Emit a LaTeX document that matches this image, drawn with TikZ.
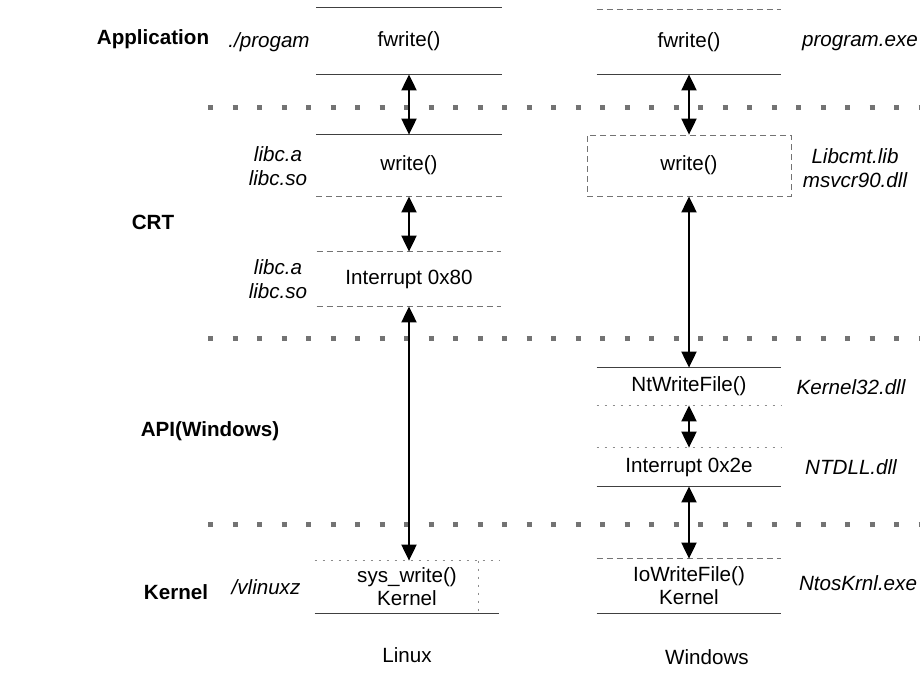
\documentclass[tikz,border=0pt]{standalone}
\usepackage{fontspec}
\setmainfont{Liberation Sans}
\usetikzlibrary{arrows.meta, positioning, calc}

\begin{document}
\begin{tikzpicture}[
    x=0.5pt, y=-0.5pt,
    layer/.style={
        rectangle,
        inner sep=0pt,
        align=center,
        minimum width=92pt,
        font=\fontsize{10.3}{11.5}\selectfont
    },
    libname/.style={
        align=center,
        font=\fontsize{10.3}{12}\selectfont\itshape
    },
    tiername/.style={
        font=\fontsize{10.3}{12}\selectfont\bfseries
    },
    osname/.style={
        font=\fontsize{10.3}{12}\selectfont
    },
    edge/.style={
        draw=black!75,
        line width=0.5pt
    },
    faint/.style={
        draw=black!55,
        line width=0.4pt,
        densely dashed
    },
    sparse/.style={
        draw=black!45,
        line width=0.4pt,
        dash pattern=on 1pt off 3pt
    },
    sepline/.style={
        draw=black!55,
        line width=2.5pt,
        dash pattern=on 2.5pt off 9.75pt
    },
    callarrow/.style={
        {Triangle[width=7.5pt, length=8pt]}-{Triangle[width=7.5pt, length=8pt]},
        line width=1pt,
        draw=black
    }
]
    \useasboundingbox (0,0) rectangle (922,682);

    % --- TIER SEPARATORS ---
    \foreach \y in {107, 338, 524} {
        \draw[sepline] (208,\y) -- (920,\y);
    }

    % --- TIER NAMES ---
    \node[tiername] (t_app) at (153, 39) {Application};
    \node[tiername] (t_crt) at (153, 222) {CRT};
    \node[tiername] (t_api) at (210, 431) {API(Windows)};
    \node[tiername] (t_krn) at (176, 592) {Kernel};

    % --- LINUX COLUMN ---
    \node[layer, minimum width=92.5pt, minimum height=33pt] (l_app) at (409, 41) {fwrite()};
    \node[layer, minimum width=92.5pt, minimum height=30.5pt] (l_write) at (409, 165.5) {write()};
    \node[layer, minimum height=27pt] (l_int) at (409, 279) {Interrupt 0x80};
    \node[layer, minimum height=26pt] (l_sys) at (407, 587) {sys\_write()\\Kernel};

    \draw[edge] (l_app.north west) -- (l_app.north east);
    \draw[edge] (l_app.south west) -- (l_app.south east);
    \draw[edge] (l_write.north west) -- (l_write.north east);
    \draw[faint] (l_write.south west) -- (l_write.south east);
    \draw[faint] (l_int.north west) -- (l_int.north east);
    \draw[faint] (l_int.south west) -- (l_int.south east);
    \draw[sparse] (l_sys.north west) -- (l_sys.north east);
    \draw[edge] (l_sys.south west) -- (l_sys.south east);
    \draw[sparse] ($(l_sys.north east)+(-21,0)$) -- ($(l_sys.south east)+(-21,0)$);

    \node[libname] (l_prog) at (269, 42) {./progam};
    \node[libname] (l_libc1) at (278, 166) {libc.a\\libc.so};
    \node[libname] (l_libc2) at (278, 279) {libc.a\\libc.so};
    \node[libname] (l_vmlinux) at (266, 587) {/vlinuxz};

    \draw[callarrow] (l_app.south) -- (l_write.north);
    \draw[callarrow] (l_write.south) -- (l_int.north);
    \draw[callarrow] (l_int.south) -- (l_int.south |- l_sys.north);

    \node[osname] (linux) at (407, 655) {Linux};

    % --- WINDOWS COLUMN ---
    \node[layer, minimum height=32pt] (w_app) at (689, 42) {fwrite()};
    \node[layer, minimum width=102pt, minimum height=30.5pt, faint] (w_write) at (689, 165.5) {write()};
    \node[layer, minimum height=18.5pt] (w_nt) at (689, 386.5) {NtWriteFile()};
    \node[layer, minimum height=19pt] (w_int) at (689, 467) {Interrupt 0x2e};
    \node[layer, minimum height=27pt] (w_io) at (689, 586) {IoWriteFile()\\Kernel};

    \draw[faint] (w_app.north west) -- (w_app.north east);
    \draw[edge] (w_app.south west) -- (w_app.south east);
    \draw[edge] (w_nt.north west) -- (w_nt.north east);
    \draw[sparse] (w_nt.south west) -- (w_nt.south east);
    \draw[sparse] (w_int.north west) -- (w_int.north east);
    \draw[edge] (w_int.south west) -- (w_int.south east);
    \draw[faint] (w_io.north west) -- (w_io.north east);
    \draw[edge] (w_io.south west) -- (w_io.south east);

    \node[libname] (w_prog) at (860, 43) {program.exe};
    \node[libname] (w_libcmt) at (855, 168) {Libcmt.lib\\msvcr90.dll};
    \node[libname] (w_k32) at (851, 387) {Kernel32.dll};
    \node[libname] (w_ntdll) at (851, 467) {NTDLL.dll};
    \node[libname] (w_ntos) at (858, 583) {NtosKrnl.exe};

    \draw[callarrow] (w_app.south) -- (w_write.north);
    \draw[callarrow] (w_write.south) -- (w_nt.north);
    \draw[callarrow] (w_nt.south) -- (w_int.north);
    \draw[callarrow] (w_int.south) -- (w_io.north);

    \node[osname] (windows) at (707, 657) {Windows};

\end{tikzpicture}
\end{document}
